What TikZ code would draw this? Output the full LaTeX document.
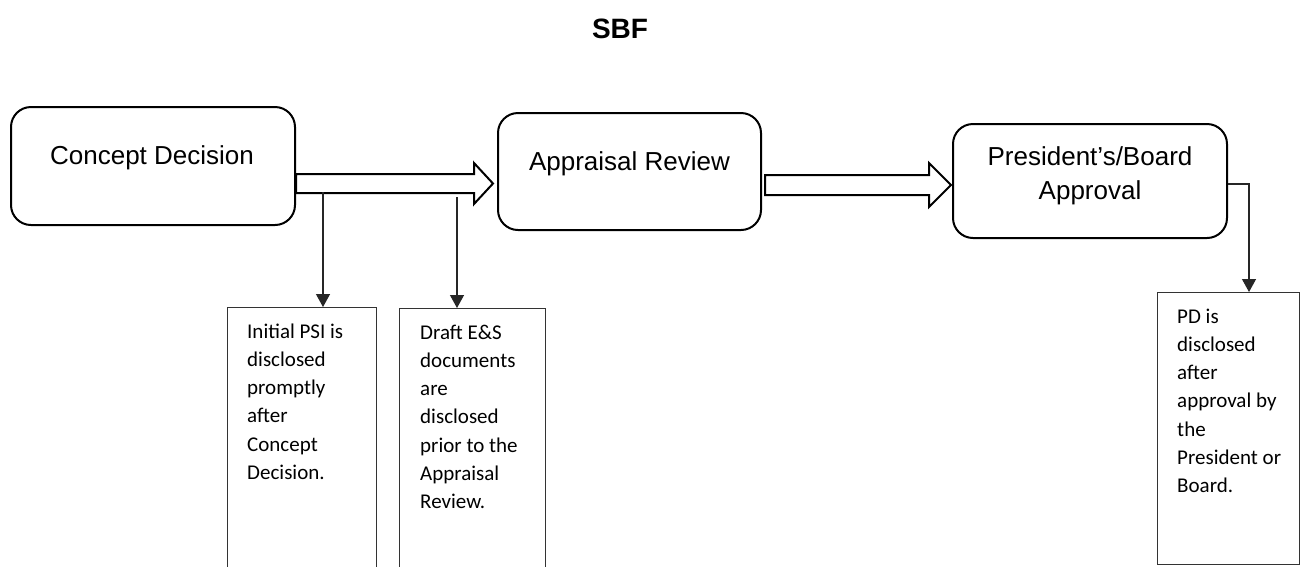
\documentclass[tikz,border=0pt]{standalone}
\usepackage{fontspec}
\setmainfont{Liberation Sans}
\newfontfamily\calib{Carlito}
\usetikzlibrary{arrows.meta,calc}
\tikzset{
  stage/.style={draw=black, line width=2pt, rounded corners=20pt, inner sep=0pt},
  stagelabel/.style={font=\fontsize{26}{34}\selectfont, inner sep=0pt, align=center},
  fat/.style={draw=black, line width=2pt, fill=white, line join=miter},
  note/.style={draw=black!80, line width=1.2pt, inner sep=0pt, anchor=north west},
  notetext/.style={font=\calib\fontsize{21}{28.3}\selectfont, inner sep=0pt, align=left, anchor=base west},
  down/.style={draw=black!85, line width=1.2pt, -{Triangle[length=13pt,width=14pt]}},
}
\begin{document}
\begin{tikzpicture}[x=1pt,y=-1pt]
\useasboundingbox (0,0) rectangle (1300,566);
\clip (0,0) rectangle (1300,566);
\fill[white] (0,0) rectangle (1300,566);

% title
\node[font=\bfseries\fontsize{28}{30}\selectfont, inner sep=0pt, anchor=base] (title) at (620,38) {SBF};

% stage boxes
\node[stage, minimum width=284pt, minimum height=118pt] (cd) at (153,166) {};
\node[stagelabel, anchor=base] (cdl) at (152,164) {Concept Decision};

\node[stage, minimum width=263pt, minimum height=117pt] (ar) at (629.5,171.5) {};
\node[stagelabel, anchor=base] (arl) at (629.5,170) {Appraisal Review};

\node[stage, minimum width=274pt, minimum height=114pt] (pa) at (1090,181) {};
\node[stagelabel, anchor=base] (pal1) at (1090,165) {President’s/Board};
\node[stagelabel, anchor=base] (pal2) at (1090,199) {Approval};

% fat arrows
\coordinate (a1s) at (cd.east |- 0,183.5);
\coordinate (a1t) at (493,183.5);
\draw[fat] ($(a1s)+(0,-9.5)$) -- ($(a1t)+(-19,-9.5)$) -- ($(a1t)+(-19,-20.5)$) -- (a1t)
  -- ($(a1t)+(-19,20.5)$) -- ($(a1t)+(-19,9.5)$) -- ($(a1s)+(0,9.5)$) -- cycle;

\coordinate (a2s) at (765,185);
\coordinate (a2t) at (951,185);
\draw[fat] ($(a2s)+(0,-10)$) -- ($(a2t)+(-22,-10)$) -- ($(a2t)+(-22,-22)$) -- (a2t)
  -- ($(a2t)+(-22,22)$) -- ($(a2t)+(-22,10)$) -- ($(a2s)+(0,10)$) -- cycle;

% note boxes
\node[note, minimum width=149pt, minimum height=280pt] (b1) at (227,307) {};
\node[notetext] (t1) at ($(b1.north west)+(20,172.5)$) {Initial PSI is\\disclosed\\promptly\\after\\Concept\\Decision.};

\node[note, minimum width=146pt, minimum height=280pt] (b2) at (399,308) {};
\node[notetext] (t2) at ($(b2.north west)+(21,200.8)$) {Draft E\&S\\documents\\are\\disclosed\\prior to the\\Appraisal\\Review.};

\node[note, minimum width=142pt, minimum height=272pt] (b3) at (1157,292) {};
\node[notetext] (t3) at ($(b3.north west)+(20,200.8)$) {PD is\\disclosed\\after\\approval by\\the\\President or\\Board.};

% thin connectors
\coordinate (c1) at (323,192);
\coordinate (c2) at (457,197);
\draw[down] (c1) -- (c1 |- b1.north);
\draw[down] (c2) -- (c2 |- b2.north);

\coordinate (c3) at (1249,184);
\draw[down] (pa.east |- c3) -- (c3) -- (c3 |- b3.north);
\end{tikzpicture}
\end{document}
